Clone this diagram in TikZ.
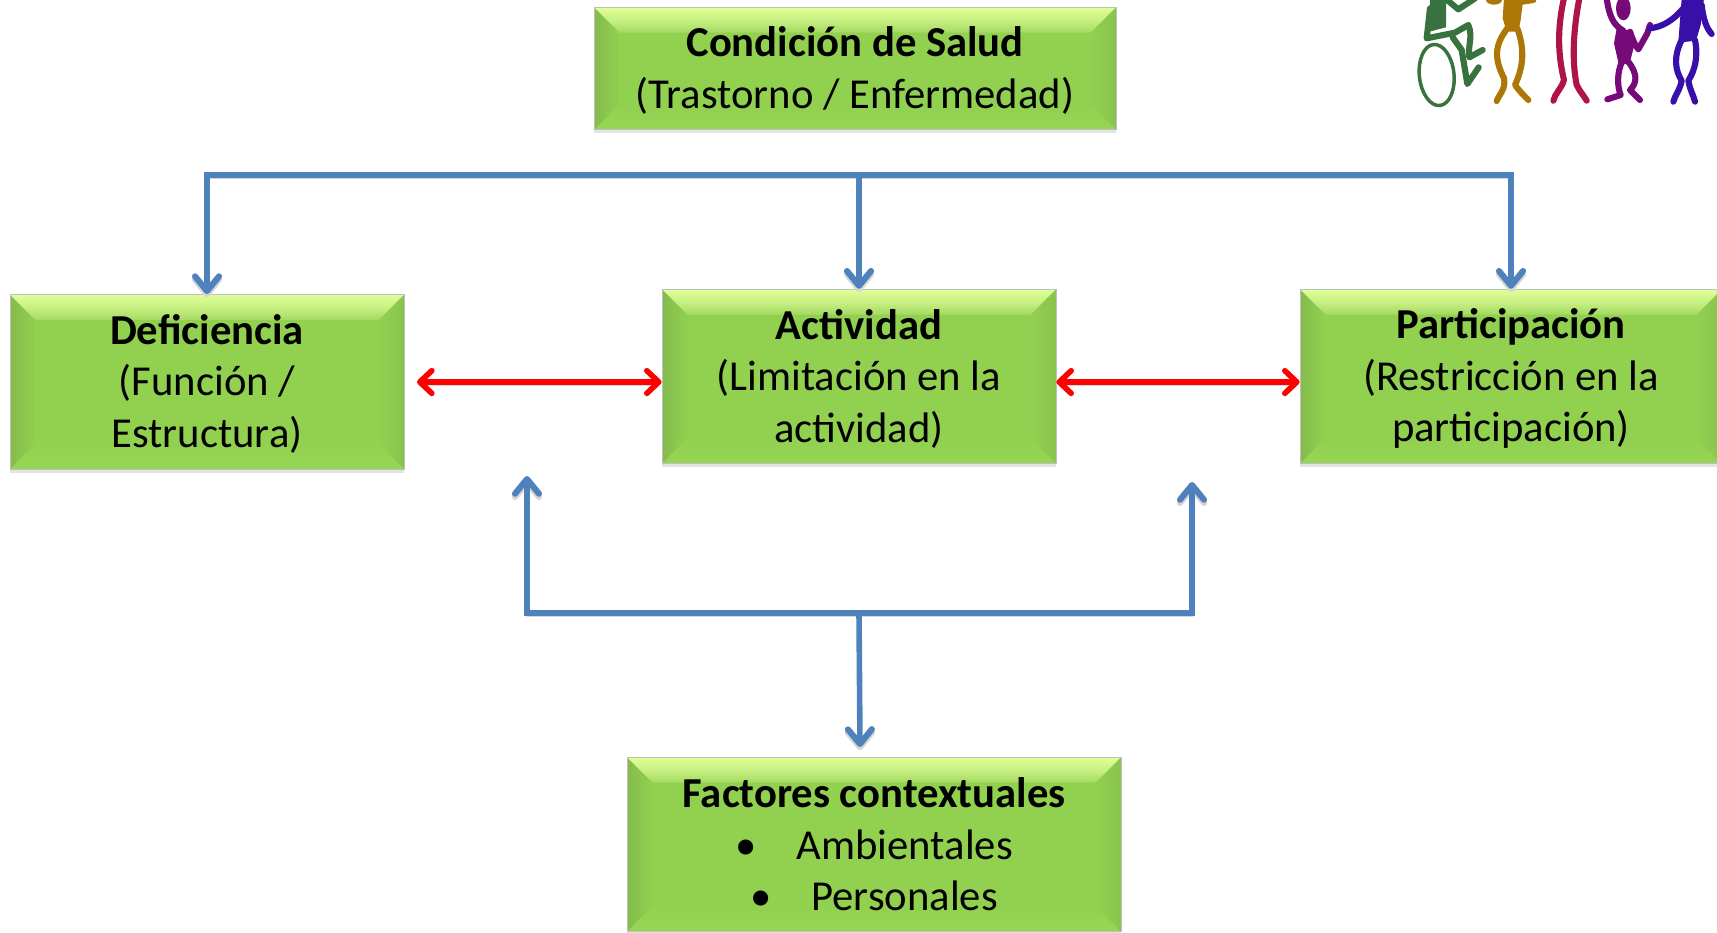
\documentclass[tikz,border=0pt]{standalone}
\usepackage{fontspec}
\setmainfont{Carlito}
\usetikzlibrary{arrows,arrows.meta,shapes,shadows,calc}

\definecolor{boxgreen}{HTML}{92D050}
\definecolor{boxlight}{HTML}{E0FF98}
\definecolor{boxmid}{HTML}{A4DA62}
\definecolor{boxdark}{HTML}{84BB4C}
\definecolor{boxedge}{HTML}{97D655}
\definecolor{linkblue}{HTML}{4F81BD}
\definecolor{wheelgreen}{HTML}{37723F}
\definecolor{figgold}{HTML}{AD7708}
\definecolor{figred}{HTML}{AE1546}
\definecolor{figpurple}{HTML}{760A78}
\definecolor{figindigo}{HTML}{380FA8}

% first line of a box, pushed down a little
\newcommand{\boxhead}[1]{\rule{0pt}{25.6pt}\textbf{#1}}

\begin{document}
\begin{tikzpicture}[x=.75pt,y=-.75pt,node distance=489pt]

	\tikzstyle{box}   = [rectangle, draw=black!25, line width=.6pt, fill=boxgreen, minimum width=295.5pt, minimum height=131pt,
		inner sep=0pt, align=center, font=\fontsize{32}{38.6}\selectfont, drop shadow={shadow xshift=0pt, shadow yshift=-2.5pt, opacity=.22},
		path picture={
			\coordinate (nw) at (path picture bounding box.north west);
			\coordinate (ne) at (path picture bounding box.north east);
			\coordinate (sw) at (path picture bounding box.south west);
			\coordinate (se) at (path picture bounding box.south east);
			\shade [left color=boxdark, right color=boxgreen]   (nw) -- ($(nw)+(19pt,-19pt)$) -- ($(sw)+(19pt,19pt)$) -- (sw) -- cycle;
			\shade [left color=boxgreen, right color=boxdark!60!boxgreen] (ne) -- ($(ne)+(-19pt,-19pt)$) -- ($(se)+(-19pt,19pt)$) -- (se) -- cycle;
			\shade [top color=boxlight, bottom color=boxmid, middle color=boxlight!60!boxmid] (nw) -- (ne) -- ($(ne)+(-19pt,-19pt)$) -- ($(nw)+(19pt,-19pt)$) -- cycle;
			\shade [top color=boxgreen, bottom color=boxedge]   (sw) -- (se) -- ($(se)+(-19pt,19pt)$) -- ($(sw)+(19pt,19pt)$) -- cycle;
		}]
	\tikzstyle{link}  = [line width=4.2pt, draw=linkblue, line cap=round, line join=miter, >={Straight Barb[round,length=11pt,width=18pt,line width=4.6pt]},
		preaction={draw=black!16, transform canvas={yshift=-2.5pt}}]
	\tikzstyle{both}  = [line width=4.2pt, draw=red, line cap=round, <->, >={Straight Barb[round,length=9pt,width=17pt,line width=4.2pt]},
		preaction={draw=black!14, transform canvas={yshift=-2.5pt}}]
	\tikzstyle{limb}  = [line width=4.6pt, line cap=round, line join=round]

	\useasboundingbox (0,0) rectangle (1717,932);

	\node [box, minimum width=391.5pt, minimum height=92pt] (cond) at (855,68.5) {\boxhead{Condición de Salud}\\(Trastorno / Enfermedad)};

	\node [box] (act) at (859,376.5) {\boxhead{Actividad}\\(Limitación en la\\actividad)};
	\node [box, yshift=-4pt] (defi) [left of=act] {\boxhead{Deficiencia}\\(Función /\\Estructura)};
	\node [box, minimum width=316.5pt] (part) [right of=act] {\boxhead{Participación}\\(Restricción en la\\participación)};

	\node [box, minimum width=370.5pt] (fact) at (874,844.5) {\textbf{Factores contextuales}\\\textbullet\hspace{30pt}Ambientales\\\textbullet\hspace{30pt}Personales};

	\coordinate (busTop)  at (859,175);
	\coordinate (busLow)  at (859,613);
	\coordinate (upLeft)  at (527,476);
	\coordinate (upRight) at (1192,482);
	\coordinate (factTip) at (860,747);
	\coordinate (redTip)  at (417,382);

	\draw [link,->] (busTop) -| (defi.north);
	\draw [link,->] (busTop) -| (part.north);
	\draw [link,->] (busTop) -- (act.north);

	\draw [link,->] (busLow) -| (upLeft);
	\draw [link,->] (busLow) -| (upRight);
	\draw [link,->] (busLow) -- (factTip);

	\draw [both] (redTip) -- (redTip -| act.west);
	\draw [both] (act.east |- redTip) -- (part.west |- redTip);

	% people in the top corner
	\begin{scope}[shift={(1380,0)},x=.25pt,y=-.25pt]
		% wheelchair
		\draw [wheelgreen, line width=2.6pt, rotate around={6:(170,225)}] (170,225) ellipse (52 and 92);
		\fill [wheelgreen] (150,0) -- (198,0) -- (198,82) -- (148,95) -- cycle;
		\draw [wheelgreen, limb] (150,25) -- (140,115) -- (225,98) -- (265,75) .. controls (280,110) and (262,140) .. (268,172) -- (308,150);
		\draw [wheelgreen, limb] (218,112) -- (245,150) -- (262,252) -- (296,202);
		\draw [wheelgreen, limb] (195,-5) -- (235,28) -- (285,-5);
		% gold figure
		\fill [figgold] (372,-5) -- (430,-5) -- (422,60) -- (415,95) -- (380,95) -- (368,55) -- cycle;
		\fill [figgold] (342,0) ellipse (24 and 14);
		\draw [figgold, limb] (382,85) .. controls (340,140) and (345,180) .. (372,235) .. controls (378,265) and (360,280) .. (350,303);
		\draw [figgold, limb] (412,85) .. controls (435,150) and (430,200) .. (405,255) .. controls (420,275) and (430,285) .. (445,300);
		\draw [figgold, limb] (425,5) -- (460,0);
		% tall figure
		\draw [figred, limb] (552,-5) .. controls (530,90) and (535,170) .. (552,240) .. controls (545,265) and (525,280) .. (520,302);
		\draw [figred, limb] (598,-5) .. controls (580,90) and (575,180) .. (590,255) .. controls (600,275) and (610,285) .. (620,302);
		% child
		\fill [figpurple] (730,25) ellipse (22 and 36);
		\fill [figpurple] (710,85) -- (752,92) -- (762,140) -- (748,192) -- (716,192) -- (702,130) -- cycle;
		\draw [figpurple, limb] (680,-5) .. controls (688,50) and (700,75) .. (730,92);
		\draw [figpurple, limb] (750,95) .. controls (758,120) and (765,135) .. (775,148) -- (802,100) -- (810,75);
		\draw [figpurple, limb] (726,185) .. controls (710,220) and (712,260) .. (722,285) -- (682,298);
		\draw [figpurple, limb] (745,185) .. controls (775,225) and (770,250) .. (750,270) -- (780,300);
		% adult
		\fill [figindigo] (905,-5) -- (972,-5) -- (962,75) -- (948,122) -- (895,128) -- (900,60) -- cycle;
		\draw [figindigo, limb] (910,25) .. controls (880,60) and (850,80) .. (810,85);
		\draw [figindigo, limb] (965,15) .. controls (970,60) and (980,85) .. (995,102);
		\draw [figindigo, limb] (905,120) .. controls (880,170) and (885,210) .. (905,242) .. controls (900,270) and (885,285) .. (880,305);
		\draw [figindigo, limb] (945,120) .. controls (955,170) and (945,210) .. (925,242) .. controls (930,270) and (940,285) .. (945,305);
	\end{scope}

\end{tikzpicture}
\end{document}
